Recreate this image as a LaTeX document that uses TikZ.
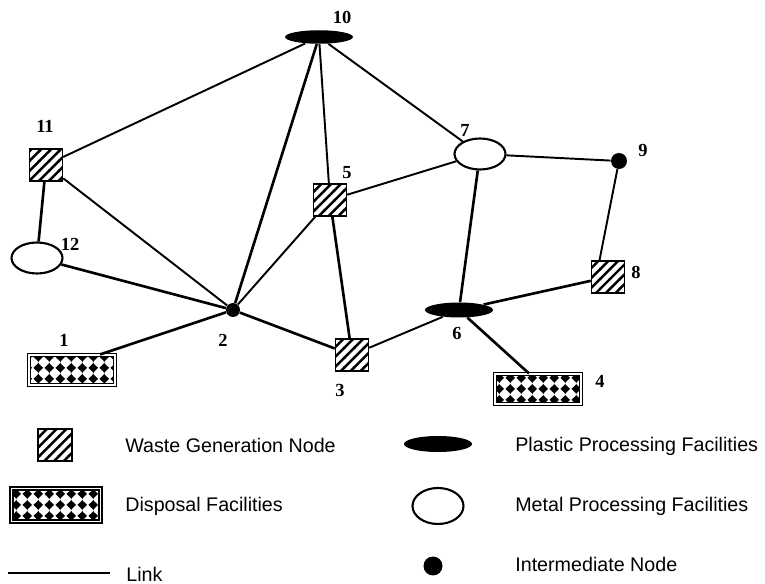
\documentclass[tikz,border=0pt]{standalone}
\usepackage{fontspec}
\setmainfont{Liberation Serif}
\setsansfont{Liberation Sans}
\usetikzlibrary{positioning,shapes.geometric,patterns}

% hatching of the waste generation nodes
\pgfdeclarepatternformonly{wastehatch}{\pgfqpoint{-1pt}{-1pt}}{\pgfqpoint{6.6pt}{6.6pt}}{\pgfqpoint{5.6pt}{5.6pt}}{
  \pgfsetlinewidth{1.4pt}
  \pgfpathmoveto{\pgfqpoint{-0.3pt}{-0.3pt}}
  \pgfpathlineto{\pgfqpoint{5.9pt}{5.9pt}}
  \pgfusepath{stroke}}

% diamonds of the disposal facilities
\pgfdeclarepatternformonly{diamondgrid}{\pgfpointorigin}{\pgfqpoint{6.4pt}{6pt}}{\pgfqpoint{6.4pt}{6pt}}{
  \pgfpathmoveto{\pgfqpoint{3.2pt}{0.3pt}}
  \pgfpathlineto{\pgfqpoint{6.1pt}{3pt}}
  \pgfpathlineto{\pgfqpoint{3.2pt}{5.7pt}}
  \pgfpathlineto{\pgfqpoint{0.3pt}{3pt}}
  \pgfpathclose
  \pgfusepath{fill}
  \pgfsetlinewidth{0.4pt}
  \pgfpathmoveto{\pgfqpoint{3.2pt}{0pt}}
  \pgfpathlineto{\pgfqpoint{3.2pt}{6pt}}
  \pgfusepath{stroke}}

\begin{document}
\begin{tikzpicture}[%
    x=0.02cm, y=-0.02cm,
    link/.style={line width=1.1pt},
    heavy/.style={line width=1.5pt},
    waste/.style={%
      rectangle, draw,
      line width=0.8pt, inner sep=0pt,
      minimum width=0.66cm, minimum height=0.64cm,
      pattern=wastehatch
    },
    disposal/.style={%
      rectangle, draw,
      line width=0.6pt, double, double distance=1.1pt,
      inner sep=0pt,
      minimum width=1.72cm, minimum height=0.6cm,
      pattern=diamondgrid
    },
    plastic/.style={%
      ellipse, fill=black, inner sep=0pt,
      minimum width=1.36cm, minimum height=0.3cm
    },
    metal/.style={%
      ellipse, draw, line width=1.2pt, inner sep=0pt,
      minimum width=1.02cm, minimum height=0.62cm
    },
    inter/.style={%
      circle, fill=black, inner sep=0pt,
      minimum size=0.28cm
    },
    num/.style={font=\bfseries\fontsize{10.5}{12}\selectfont, inner sep=0pt},
    legtext/.style={font=\sffamily\fontsize{11.2}{13}\selectfont, anchor=base west, inner sep=0pt}
  ]
    \useasboundingbox (0,0) rectangle (765,584);

    % network nodes
    \node[disposal] (n1) at (72,370) {};
    \node[inter] (n2) at (233,310) {};
    \node[waste] (n3) at (352,355) {};
    \node[disposal] (n4) at (538,389) {};
    \node[waste] (n5) at (330,200) {};
    \node[plastic] (n6) at (459,310) {};
    \node[metal] (n7) at (480,154) {};
    \node[waste] (n8) at (608,277) {};
    \node[inter, minimum size=0.32cm] (n9) at (619,161) {};
    \node[plastic, minimum height=0.27cm] (n10) at (319,37) {};
    \node[waste] (n11) at (46,165) {};
    \node[metal] (n12) at (37,258) {};

    % numbers
    \node[num] (l1) at (64,340) {1};
    \node[num] (l2) at (223,340) {2};
    \node[num] (l3) at (340,390) {3};
    \node[num] (l4) at (600,381) {4};
    \node[num] (l5) at (347,173) {5};
    \node[num] (l6) at (457,333) {6};
    \node[num] (l7) at (465,130) {7};
    \node[num] (l8) at (636,272) {8};
    \node[num] (l9) at (643,150) {9};
    \node[num] (l10) at (342,17) {10};
    \node[num] (l11) at (45,126) {11};
    \node[num] (l12) at (70,244) {12};

    % links
    \path (n10) edge[link] (n11)
          (n10) edge[heavy] (n2)
          (n10) edge[link] (n5)
          (n10) edge[link] (n7)

          (n11) edge[link] (n2)
          (n11) edge[heavy] (n12)
          (n12) edge[heavy] (n2)

          (n2) edge[heavy] ([xshift=0.56cm]n1.north)
          (n2) edge[link] (n5)
          (n2) edge[heavy] (n3)

          (n5) edge[heavy] (n3)
          (n5) edge[link] (n7)
          (n3) edge[link] (n6)

          (n7) edge[heavy] (n6)
          (n7) edge[link] (n9)
          (n9) edge[link] ([xshift=-0.17cm]n8.north)
          (n8) edge[heavy] (n6)
          (n6) edge[heavy] ([xshift=-0.18cm]n4.north)
    ;

    % legend
    \node[waste, minimum width=0.68cm] (k1) at (55,445) {};
    \node[disposal, minimum width=1.78cm, minimum height=0.66cm] (k2) at (56,505) {};
    \coordinate (k3a) at (8,573);
    \coordinate (k3b) at (110,573);
    \draw[heavy] (k3a) -- (k3b);
    \node[plastic, minimum height=0.32cm] (k4) at (438,444) {};
    \node[metal, minimum height=0.72cm] (k5) at (438,506) {};
    \node[inter, minimum size=0.38cm] (k6) at (433,566) {};

    \node[legtext] (t1) at (125,453) {Waste Generation Node};
    \node[legtext] (t2) at (125,512) {Disposal Facilities};
    \node[legtext] (t3) at (126,582) {Link};
    \node[legtext] (t4) at (515,452) {Plastic Processing Facilities};
    \node[legtext] (t5) at (515,512) {Metal Processing Facilities};
    \node[legtext] (t6) at (515,572) {Intermediate Node};
\end{tikzpicture}
\end{document}
